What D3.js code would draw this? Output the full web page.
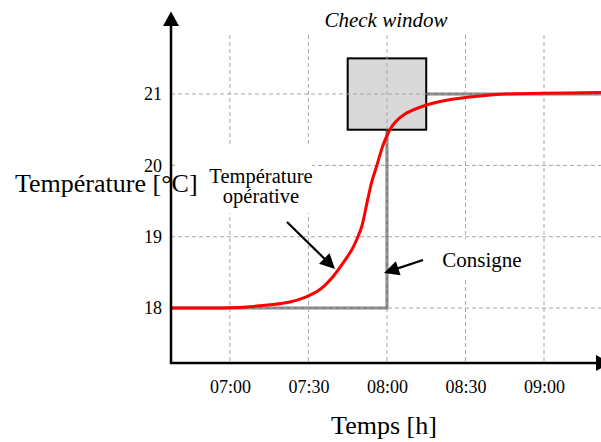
<!DOCTYPE html>
<html>
<head>
<meta charset="utf-8">
<script src="https://cdn.jsdelivr.net/npm/d3@7"></script>
<style>
  html, body { margin: 0; padding: 0; background: #fff; }
  svg { display: block; }
</style>
</head>
<body>
<svg id="chart" width="601" height="442"></svg>
<script>
// ---- data ----
const xTickLabels = ["07:00", "07:30", "08:00", "08:30", "09:00"];
const yTickValues = [18, 19, 20, 21];

const opTimes = ["06:37:30", "06:50:00", "07:00:00", "07:07:38", "07:15:17", "07:22:56", "07:28:40", "07:34:23",
  "07:39:22", "07:43:11", "07:46:37", "07:48:55", "07:50:26", "07:52:21", "07:54:16",
  "07:56:10", "07:58:28", "08:01:08", "08:03:03", "08:06:52", "08:14:31", "08:22:10",
  "08:29:48", "08:37:26", "08:45:05", "08:59:36", "09:22:00"];
const opTemps = [18.00, 18.00, 18.005, 18.02, 18.045, 18.085, 18.15, 18.26,
  18.44, 18.63, 18.82, 19.00, 19.15, 19.47, 19.78,
  20.00, 20.28, 20.50, 20.60, 20.72, 20.84, 20.91,
  20.95, 20.98, 21.00, 21.01, 21.02];

const setTimes = ["06:37:30", "08:00:00", "09:22:00"];
const setTemps = [18, 21, 21];

const windowTimes = ["07:45:00", "08:15:00"];
const windowTemps = [20.5, 21.5];

const xDomain = ["06:37:30", "09:22:00"];
const yDomain = [17.23, 22.15];

// ---- setup ----
const FONT = "'Liberation Serif', 'Times New Roman', Times, serif";
const parse = d3.timeParse("%H:%M:%S");
const parseHM = d3.timeParse("%H:%M");
const svg = d3.select("#chart");

const x = d3.scaleTime().domain(xDomain.map(parse)).range([171, 601.6]);
const y = d3.scaleLinear().domain(yDomain).range([363, 12]);

const x0 = 171, xEnd = 601.6, yAxis = 363, gridTop = 35;

// consigne (under box)
const setData = setTimes.map((t, i) => ({ t: parse(t), v: setTemps[i] }));
svg.append("path")
  .datum(setData)
  .attr("fill", "none")
  .attr("stroke", "#808080")
  .attr("stroke-width", 3)
  .attr("d", d3.line().x(d => x(d.t)).y(d => y(d.v)).curve(d3.curveStepAfter));

// check window box
svg.append("rect")
  .attr("x", x(parse(windowTimes[0])))
  .attr("y", y(windowTemps[1]))
  .attr("width", x(parse(windowTimes[1])) - x(parse(windowTimes[0])))
  .attr("height", y(windowTemps[0]) - y(windowTemps[1]))
  .attr("fill", "#d9d9d9")
  .attr("stroke", "#000")
  .attr("stroke-width", 2);

// gridlines
const grid = svg.append("g").attr("stroke", "#a6a6a6").attr("stroke-width", 1)
  .attr("stroke-dasharray", "4,3").attr("fill", "none");
xTickLabels.forEach(s => {
  const xp = x(parseHM(s));
  grid.append("line").attr("x1", xp).attr("x2", xp).attr("y1", gridTop).attr("y2", yAxis);
});
yTickValues.forEach(v => {
  grid.append("line").attr("x1", x0).attr("x2", xEnd).attr("y1", y(v)).attr("y2", y(v));
});

// white label backgrounds
svg.append("rect").attr("x", 178).attr("y", 147).attr("width", 134).attr("height", 66).attr("fill", "#fff");
svg.append("rect").attr("x", 430).attr("y", 239).attr("width", 102).attr("height", 39).attr("fill", "#fff");

// operative temperature
const opData = opTimes.map((t, i) => ({ t: parse(t), v: opTemps[i] }));
svg.append("path")
  .datum(opData)
  .attr("fill", "none")
  .attr("stroke", "#ff0000")
  .attr("stroke-width", 3)
  .attr("stroke-linejoin", "round")
  .attr("d", d3.line().x(d => x(d.t)).y(d => y(d.v)).curve(d3.curveCatmullRom.alpha(0.5)));

// ---- axes ----
const xAx = d3.axisBottom(x)
  .tickValues(xTickLabels.map(s => parseHM(s)))
  .tickFormat(d3.timeFormat("%H:%M"))
  .tickSize(0).tickPadding(17);
const gx = svg.append("g").attr("transform", `translate(0,${yAxis})`).call(xAx)
  .attr("font-family", FONT).attr("font-size", 18);
gx.select(".domain").remove();
gx.selectAll("text").attr("font-family", FONT).attr("font-size", 18).attr("fill", "#000");

const yAx = d3.axisLeft(y).tickValues(yTickValues).tickFormat(d3.format("d")).tickSize(0).tickPadding(9);
const gy = svg.append("g").attr("transform", `translate(${x0},0)`).call(yAx)
  .attr("font-family", FONT).attr("font-size", 18);
gy.select(".domain").remove();
gy.selectAll("text").attr("font-family", FONT).attr("font-size", 18).attr("fill", "#000");

// axis lines with arrows
svg.append("line").attr("x1", x0).attr("x2", x0).attr("y1", yAxis + 1).attr("y2", 24)
  .attr("stroke", "#000").attr("stroke-width", 2.5);
svg.append("path").attr("d", `M${x0},11.5 L${x0 - 8},26 L${x0 + 8},26 Z`).attr("fill", "#000");
svg.append("line").attr("x1", x0 - 1).attr("x2", 598).attr("y1", yAxis).attr("y2", yAxis)
  .attr("stroke", "#000").attr("stroke-width", 2.5);
svg.append("path").attr("d", `M610,${yAxis} L596,${yAxis - 8} L596,${yAxis + 8} Z`).attr("fill", "#000");

// ---- texts ----
function label(xp, yp, size, txt, anchor, italic) {
  svg.append("text").attr("x", xp).attr("y", yp)
    .attr("font-family", FONT).attr("font-size", size)
    .attr("font-style", italic ? "italic" : "normal")
    .attr("text-anchor", anchor || "start").attr("fill", "#000").text(txt);
}
label(386, 27, 21, "Check window", "middle", true);
label(15, 192, 26, "Température [°C]");
label(384, 434, 26, "Temps [h]", "middle");
label(261, 183, 20.5, "Température", "middle");
label(261, 203, 20.5, "opérative", "middle");
label(482, 267, 21, "Consigne", "middle");

// arrows
function arrow(x1, y1, x2, y2) {
  const dx = x2 - x1, dy = y2 - y1, L = Math.hypot(dx, dy);
  const ux = dx / L, uy = dy / L, hl = 15, hw = 7.5;
  const bx = x2 - ux * hl, by = y2 - uy * hl;
  svg.append("line").attr("x1", x1).attr("y1", y1).attr("x2", bx + ux * 2).attr("y2", by + uy * 2)
    .attr("stroke", "#000").attr("stroke-width", 2.2);
  svg.append("path")
    .attr("d", `M${x2},${y2} L${bx - uy * hw},${by + ux * hw} L${bx + uy * hw},${by - ux * hw} Z`)
    .attr("fill", "#000");
}
arrow(287, 222, 335, 269);
arrow(423, 260, 384, 273);
</script>
</body>
</html>
